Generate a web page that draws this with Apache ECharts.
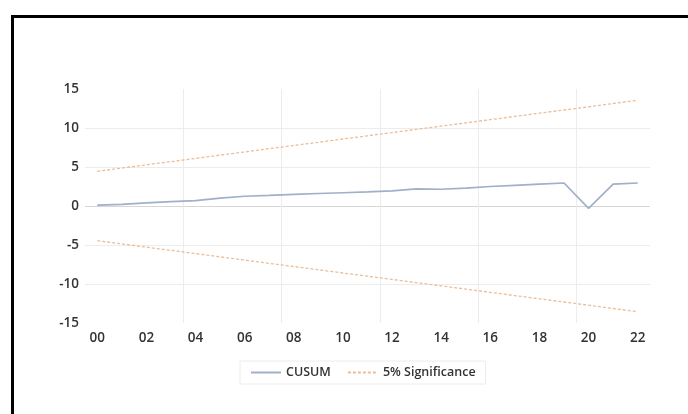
<!DOCTYPE html>
<html>
<head>
<meta charset="utf-8">
<script src="https://cdn.jsdelivr.net/npm/echarts@6/dist/echarts.min.js"></script>
<style>
html,body{margin:0;padding:0;background:#fff;}
#c{width:688px;height:414px;}
</style>
</head>
<body>
<div id="c"></div>
<script>
var years = ['00','01','02','03','04','05','06','07','08','09','10','11','12','13','14','15','16','17','18','19','20','21','22'];
var cusum = [0.1,0.2,0.4,0.55,0.7,1.0,1.25,1.35,1.5,1.6,1.7,1.8,1.95,2.2,2.15,2.3,2.5,2.65,2.8,2.95,-0.3,2.8,2.95];
var upper = [4.45,4.86,5.28,5.69,6.10,6.52,6.93,7.35,7.76,8.17,8.59,9.00,9.41,9.83,10.24,10.66,11.07,11.48,11.90,12.31,12.72,13.14,13.55];
var lower = [-4.45,-4.86,-5.28,-5.69,-6.10,-6.52,-6.93,-7.35,-7.76,-8.17,-8.59,-9.00,-9.41,-9.83,-10.24,-10.66,-11.07,-11.48,-11.90,-12.31,-12.72,-13.14,-13.55];
var yTicks = {min:-15, max:15, interval:5};

var chart = echarts.init(document.getElementById('c'), null, {renderer:'canvas'});
var labelFont = {color:'#333', fontSize:13.5, fontWeight:600, fontFamily:'Open Sans'};
var sigColor = '#ebbd98';
var cuColor = '#9fb0c8';
chart.setOption({
  animation:false,
  backgroundColor:'#fff',
  graphic:[{type:'rect', left:10, top:14, shape:{x:0,y:0,width:700,height:420}, style:{fill:'none', stroke:'#000', lineWidth:3}, silent:true}],
  grid:{left:85, right:38, top:89, bottom:91},
  legend:{
    left:240, top:361,
    borderColor:'#ececec', borderWidth:1, padding:[5,10,5,10],
    itemWidth:30, itemHeight:10, itemGap:16,
    itemStyle:{opacity:0},
    textStyle:{color:'#333', fontSize:12.5, fontWeight:600, fontFamily:'Open Sans'},
    data:['CUSUM','5% Significance']
  },
  xAxis:{
    type:'category', data:years, boundaryGap:true,
    axisLine:{show:false}, axisTick:{show:false},
    axisLabel:Object.assign({interval:1, margin:8}, labelFont),
    splitLine:{show:true, interval:3, lineStyle:{color:['transparent','#ececec','#ececec','#ececec','#ececec','#ececec'], width:1}}
  },
  yAxis:{
    type:'value', min:yTicks.min, max:yTicks.max, interval:yTicks.interval,
    axisLine:{show:false}, axisTick:{show:false},
    axisLabel:Object.assign({margin:6}, labelFont),
    splitLine:{show:true, lineStyle:{color:['transparent','#ececec','#ececec','#d6d6d6','#ececec','#ececec','transparent'], width:1}}
  },
  series:[
    {name:'CUSUM', type:'line', data:cusum, symbol:'none', lineStyle:{color:cuColor, width:1.7}, itemStyle:{color:cuColor}, z:3},
    {name:'5% Significance', type:'line', data:upper, symbol:'none', lineStyle:{color:sigColor, width:1.3, type:[3,2]}, itemStyle:{color:sigColor}},
    {name:'5% Significance', type:'line', data:lower, symbol:'none', lineStyle:{color:sigColor, width:1.3, type:[3,2]}, itemStyle:{color:sigColor}}
  ]
});
</script>
</body>
</html>
